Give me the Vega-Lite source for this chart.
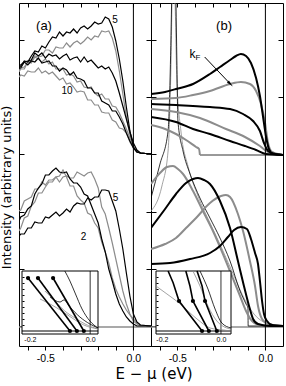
{
"$schema":"https://vega.github.io/schema/vega-lite/v6.json",
"padding":{"left":0,"top":0,"right":2,"bottom":0},
"background":"white",
"title":{"text":"E − μ (eV)","orient":"bottom","anchor":"middle","font":"DejaVu Sans","fontSize":15,"fontWeight":"normal","offset":3,"dx":12,"color":"#000"},
"spacing":0,
"bounds":"flush",
"config":{"font":"Liberation Sans","view":{"stroke":"#000","strokeWidth":1},"axis":{"grid":false,"labelFont":"Liberation Sans","titleFont":"Liberation Sans","tickColor":"#000","labelColor":"#000","titleColor":"#000","domainColor":"#000","tickWidth":1},"text":{"font":"Liberation Sans","color":"#000"}},
"datasets":{
"gbase":[{"x":-0.65,"y":-1},{"x":0.1,"y":-1}],
"zero":[{"x":0,"y":-20},{"x":0,"y":323}],
"aK":[
{"id":"A","x":-0.65,"y":259},{"id":"A","x":-0.64,"y":260},{"id":"A","x":-0.62,"y":265},{"id":"A","x":-0.6,"y":264},{"id":"A","x":-0.58,"y":270},{"id":"A","x":-0.56,"y":275},{"id":"A","x":-0.54,"y":274},{"id":"A","x":-0.52,"y":280},{"id":"A","x":-0.5,"y":278},{"id":"A","x":-0.48,"y":284},{"id":"A","x":-0.46,"y":289},{"id":"A","x":-0.44,"y":288},{"id":"A","x":-0.42,"y":294},{"id":"A","x":-0.4,"y":290},{"id":"A","x":-0.38,"y":294},{"id":"A","x":-0.36,"y":293},{"id":"A","x":-0.34,"y":297},{"id":"A","x":-0.32,"y":293},{"id":"A","x":-0.3,"y":298},{"id":"A","x":-0.28,"y":300},{"id":"A","x":-0.26,"y":297},{"id":"A","x":-0.24,"y":300},{"id":"A","x":-0.22,"y":304},{"id":"A","x":-0.2,"y":302},{"id":"A","x":-0.18,"y":303},{"id":"A","x":-0.16,"y":309},{"id":"A","x":-0.15,"y":308},{"id":"A","x":-0.14,"y":307},{"id":"A","x":-0.12,"y":299},{"id":"A","x":-0.1,"y":285},{"id":"A","x":-0.08,"y":267},{"id":"A","x":-0.06,"y":245},{"id":"A","x":-0.04,"y":219},{"id":"A","x":-0.02,"y":195},{"id":"A","x":0,"y":179},{"id":"A","x":0.02,"y":174},{"id":"A","x":0.04,"y":173},{"id":"A","x":0.1,"y":172},
{"id":"C","x":-0.65,"y":258},{"id":"C","x":-0.64,"y":258},{"id":"C","x":-0.62,"y":264},{"id":"C","x":-0.6,"y":265},{"id":"C","x":-0.58,"y":266},{"id":"C","x":-0.56,"y":273},{"id":"C","x":-0.54,"y":270},{"id":"C","x":-0.52,"y":273},{"id":"C","x":-0.5,"y":268},{"id":"C","x":-0.48,"y":272},{"id":"C","x":-0.46,"y":270},{"id":"C","x":-0.44,"y":271},{"id":"C","x":-0.42,"y":267},{"id":"C","x":-0.4,"y":270},{"id":"C","x":-0.38,"y":272},{"id":"C","x":-0.36,"y":266},{"id":"C","x":-0.34,"y":268},{"id":"C","x":-0.32,"y":269},{"id":"C","x":-0.3,"y":264},{"id":"C","x":-0.28,"y":269},{"id":"C","x":-0.26,"y":264},{"id":"C","x":-0.24,"y":266},{"id":"C","x":-0.22,"y":262},{"id":"C","x":-0.2,"y":258},{"id":"C","x":-0.18,"y":260},{"id":"C","x":-0.16,"y":257},{"id":"C","x":-0.14,"y":259},{"id":"C","x":-0.12,"y":253},{"id":"C","x":-0.1,"y":245},{"id":"C","x":-0.08,"y":233},{"id":"C","x":-0.06,"y":220},{"id":"C","x":-0.04,"y":207},{"id":"C","x":-0.02,"y":194},{"id":"C","x":0,"y":183},{"id":"C","x":0.02,"y":176},{"id":"C","x":0.04,"y":173},{"id":"C","x":0.1,"y":172},
{"id":"E","x":-0.65,"y":261},{"id":"E","x":-0.64,"y":261},{"id":"E","x":-0.62,"y":264},{"id":"E","x":-0.6,"y":261},{"id":"E","x":-0.58,"y":265},{"id":"E","x":-0.56,"y":264},{"id":"E","x":-0.54,"y":268},{"id":"E","x":-0.52,"y":263},{"id":"E","x":-0.5,"y":264},{"id":"E","x":-0.48,"y":265},{"id":"E","x":-0.46,"y":260},{"id":"E","x":-0.44,"y":260},{"id":"E","x":-0.42,"y":255},{"id":"E","x":-0.4,"y":258},{"id":"E","x":-0.38,"y":256},{"id":"E","x":-0.36,"y":251},{"id":"E","x":-0.34,"y":254},{"id":"E","x":-0.32,"y":248},{"id":"E","x":-0.3,"y":247},{"id":"E","x":-0.28,"y":245},{"id":"E","x":-0.26,"y":238},{"id":"E","x":-0.24,"y":238},{"id":"E","x":-0.22,"y":233},{"id":"E","x":-0.2,"y":233},{"id":"E","x":-0.18,"y":225},{"id":"E","x":-0.16,"y":223},{"id":"E","x":-0.14,"y":221},{"id":"E","x":-0.12,"y":215},{"id":"E","x":-0.1,"y":215},{"id":"E","x":-0.08,"y":209},{"id":"E","x":-0.06,"y":202},{"id":"E","x":-0.04,"y":193},{"id":"E","x":-0.02,"y":185},{"id":"E","x":0,"y":178},{"id":"E","x":0.02,"y":174},{"id":"E","x":0.04,"y":173},{"id":"E","x":0.1,"y":172},
{"id":"LA","x":-0.65,"y":90},{"id":"LA","x":-0.64,"y":92},{"id":"LA","x":-0.62,"y":92},{"id":"LA","x":-0.6,"y":98},{"id":"LA","x":-0.58,"y":98},{"id":"LA","x":-0.56,"y":104},{"id":"LA","x":-0.54,"y":103},{"id":"LA","x":-0.52,"y":103},{"id":"LA","x":-0.5,"y":109},{"id":"LA","x":-0.48,"y":108},{"id":"LA","x":-0.46,"y":111},{"id":"LA","x":-0.44,"y":114},{"id":"LA","x":-0.42,"y":110},{"id":"LA","x":-0.4,"y":113},{"id":"LA","x":-0.38,"y":117},{"id":"LA","x":-0.36,"y":114},{"id":"LA","x":-0.34,"y":120},{"id":"LA","x":-0.32,"y":123},{"id":"LA","x":-0.3,"y":122},{"id":"LA","x":-0.28,"y":122},{"id":"LA","x":-0.26,"y":128},{"id":"LA","x":-0.24,"y":126},{"id":"LA","x":-0.22,"y":129},{"id":"LA","x":-0.2,"y":129},{"id":"LA","x":-0.18,"y":136},{"id":"LA","x":-0.16,"y":136},{"id":"LA","x":-0.14,"y":135},{"id":"LA","x":-0.12,"y":125},{"id":"LA","x":-0.1,"y":115},{"id":"LA","x":-0.08,"y":97},{"id":"LA","x":-0.06,"y":77},{"id":"LA","x":-0.04,"y":53},{"id":"LA","x":-0.02,"y":30},{"id":"LA","x":0,"y":12},{"id":"LA","x":0.02,"y":4},{"id":"LA","x":0.04,"y":1},{"id":"LA","x":0.1,"y":0},
{"id":"LC","x":-0.65,"y":105},{"id":"LC","x":-0.64,"y":109},{"id":"LC","x":-0.62,"y":111},{"id":"LC","x":-0.6,"y":117},{"id":"LC","x":-0.58,"y":120},{"id":"LC","x":-0.56,"y":132},{"id":"LC","x":-0.54,"y":138},{"id":"LC","x":-0.52,"y":142},{"id":"LC","x":-0.5,"y":151},{"id":"LC","x":-0.48,"y":151},{"id":"LC","x":-0.46,"y":155},{"id":"LC","x":-0.44,"y":158},{"id":"LC","x":-0.42,"y":154},{"id":"LC","x":-0.4,"y":153},{"id":"LC","x":-0.38,"y":154},{"id":"LC","x":-0.36,"y":147},{"id":"LC","x":-0.34,"y":143},{"id":"LC","x":-0.32,"y":143},{"id":"LC","x":-0.3,"y":139},{"id":"LC","x":-0.28,"y":132},{"id":"LC","x":-0.26,"y":130},{"id":"LC","x":-0.24,"y":121},{"id":"LC","x":-0.22,"y":112},{"id":"LC","x":-0.2,"y":103},{"id":"LC","x":-0.18,"y":87},{"id":"LC","x":-0.16,"y":74},{"id":"LC","x":-0.14,"y":57},{"id":"LC","x":-0.12,"y":45},{"id":"LC","x":-0.1,"y":32},{"id":"LC","x":-0.08,"y":22},{"id":"LC","x":-0.06,"y":15},{"id":"LC","x":-0.04,"y":9},{"id":"LC","x":-0.02,"y":5},{"id":"LC","x":0,"y":2},{"id":"LC","x":0.02,"y":0},{"id":"LC","x":0.1,"y":0}
],
"aG":[
{"id":"B","x":-0.65,"y":255},{"id":"B","x":-0.64,"y":257},{"id":"B","x":-0.62,"y":257},{"id":"B","x":-0.6,"y":264},{"id":"B","x":-0.58,"y":265},{"id":"B","x":-0.56,"y":270},{"id":"B","x":-0.54,"y":269},{"id":"B","x":-0.52,"y":270},{"id":"B","x":-0.5,"y":276},{"id":"B","x":-0.48,"y":276},{"id":"B","x":-0.46,"y":273},{"id":"B","x":-0.44,"y":279},{"id":"B","x":-0.42,"y":278},{"id":"B","x":-0.4,"y":278},{"id":"B","x":-0.38,"y":283},{"id":"B","x":-0.36,"y":279},{"id":"B","x":-0.34,"y":283},{"id":"B","x":-0.32,"y":285},{"id":"B","x":-0.3,"y":282},{"id":"B","x":-0.28,"y":285},{"id":"B","x":-0.26,"y":289},{"id":"B","x":-0.24,"y":286},{"id":"B","x":-0.22,"y":290},{"id":"B","x":-0.2,"y":289},{"id":"B","x":-0.18,"y":295},{"id":"B","x":-0.16,"y":294},{"id":"B","x":-0.14,"y":295},{"id":"B","x":-0.12,"y":288},{"id":"B","x":-0.1,"y":275},{"id":"B","x":-0.08,"y":255},{"id":"B","x":-0.06,"y":232},{"id":"B","x":-0.04,"y":209},{"id":"B","x":-0.02,"y":191},{"id":"B","x":0,"y":179},{"id":"B","x":0.02,"y":174},{"id":"B","x":0.04,"y":173},{"id":"B","x":0.1,"y":172},
{"id":"D","x":-0.65,"y":254},{"id":"D","x":-0.64,"y":258},{"id":"D","x":-0.62,"y":259},{"id":"D","x":-0.6,"y":264},{"id":"D","x":-0.58,"y":263},{"id":"D","x":-0.56,"y":269},{"id":"D","x":-0.54,"y":267},{"id":"D","x":-0.52,"y":264},{"id":"D","x":-0.5,"y":267},{"id":"D","x":-0.48,"y":262},{"id":"D","x":-0.46,"y":264},{"id":"D","x":-0.44,"y":257},{"id":"D","x":-0.42,"y":257},{"id":"D","x":-0.4,"y":257},{"id":"D","x":-0.38,"y":251},{"id":"D","x":-0.36,"y":252},{"id":"D","x":-0.34,"y":250},{"id":"D","x":-0.32,"y":244},{"id":"D","x":-0.3,"y":245},{"id":"D","x":-0.28,"y":239},{"id":"D","x":-0.26,"y":238},{"id":"D","x":-0.24,"y":239},{"id":"D","x":-0.22,"y":233},{"id":"D","x":-0.2,"y":230},{"id":"D","x":-0.18,"y":232},{"id":"D","x":-0.16,"y":227},{"id":"D","x":-0.14,"y":227},{"id":"D","x":-0.12,"y":220},{"id":"D","x":-0.1,"y":219},{"id":"D","x":-0.08,"y":213},{"id":"D","x":-0.06,"y":205},{"id":"D","x":-0.04,"y":197},{"id":"D","x":-0.02,"y":188},{"id":"D","x":0,"y":180},{"id":"D","x":0.02,"y":175},{"id":"D","x":0.04,"y":173},{"id":"D","x":0.1,"y":172},
{"id":"F","x":-0.65,"y":249},{"id":"F","x":-0.64,"y":251},{"id":"F","x":-0.62,"y":250},{"id":"F","x":-0.6,"y":255},{"id":"F","x":-0.58,"y":254},{"id":"F","x":-0.56,"y":254},{"id":"F","x":-0.54,"y":258},{"id":"F","x":-0.52,"y":253},{"id":"F","x":-0.5,"y":255},{"id":"F","x":-0.48,"y":252},{"id":"F","x":-0.46,"y":254},{"id":"F","x":-0.44,"y":250},{"id":"F","x":-0.42,"y":246},{"id":"F","x":-0.4,"y":248},{"id":"F","x":-0.38,"y":242},{"id":"F","x":-0.36,"y":243},{"id":"F","x":-0.34,"y":239},{"id":"F","x":-0.32,"y":234},{"id":"F","x":-0.3,"y":235},{"id":"F","x":-0.28,"y":234},{"id":"F","x":-0.26,"y":226},{"id":"F","x":-0.24,"y":226},{"id":"F","x":-0.22,"y":221},{"id":"F","x":-0.2,"y":221},{"id":"F","x":-0.18,"y":214},{"id":"F","x":-0.16,"y":213},{"id":"F","x":-0.14,"y":213},{"id":"F","x":-0.12,"y":206},{"id":"F","x":-0.1,"y":204},{"id":"F","x":-0.08,"y":198},{"id":"F","x":-0.06,"y":197},{"id":"F","x":-0.04,"y":193},{"id":"F","x":-0.02,"y":184},{"id":"F","x":0,"y":178},{"id":"F","x":0.02,"y":174},{"id":"F","x":0.04,"y":173},{"id":"F","x":0.1,"y":172},
{"id":"LB","x":-0.65,"y":115},{"id":"LB","x":-0.64,"y":116},{"id":"LB","x":-0.62,"y":125},{"id":"LB","x":-0.6,"y":127},{"id":"LB","x":-0.58,"y":129},{"id":"LB","x":-0.56,"y":137},{"id":"LB","x":-0.54,"y":137},{"id":"LB","x":-0.52,"y":144},{"id":"LB","x":-0.5,"y":141},{"id":"LB","x":-0.48,"y":146},{"id":"LB","x":-0.46,"y":146},{"id":"LB","x":-0.44,"y":149},{"id":"LB","x":-0.42,"y":144},{"id":"LB","x":-0.4,"y":149},{"id":"LB","x":-0.38,"y":150},{"id":"LB","x":-0.36,"y":148},{"id":"LB","x":-0.34,"y":148},{"id":"LB","x":-0.32,"y":154},{"id":"LB","x":-0.3,"y":152},{"id":"LB","x":-0.28,"y":150},{"id":"LB","x":-0.26,"y":153},{"id":"LB","x":-0.24,"y":154},{"id":"LB","x":-0.22,"y":147},{"id":"LB","x":-0.2,"y":138},{"id":"LB","x":-0.18,"y":119},{"id":"LB","x":-0.16,"y":112},{"id":"LB","x":-0.14,"y":98},{"id":"LB","x":-0.12,"y":83},{"id":"LB","x":-0.1,"y":67},{"id":"LB","x":-0.08,"y":51},{"id":"LB","x":-0.06,"y":35},{"id":"LB","x":-0.04,"y":22},{"id":"LB","x":-0.02,"y":12},{"id":"LB","x":0,"y":5},{"id":"LB","x":0.02,"y":2},{"id":"LB","x":0.04,"y":0},{"id":"LB","x":0.1,"y":0},
{"id":"LD","x":-0.65,"y":95},{"id":"LD","x":-0.64,"y":98},{"id":"LD","x":-0.62,"y":108},{"id":"LD","x":-0.6,"y":110},{"id":"LD","x":-0.58,"y":120},{"id":"LD","x":-0.56,"y":124},{"id":"LD","x":-0.54,"y":133},{"id":"LD","x":-0.52,"y":133},{"id":"LD","x":-0.5,"y":139},{"id":"LD","x":-0.48,"y":144},{"id":"LD","x":-0.46,"y":144},{"id":"LD","x":-0.44,"y":149},{"id":"LD","x":-0.42,"y":150},{"id":"LD","x":-0.4,"y":156},{"id":"LD","x":-0.38,"y":149},{"id":"LD","x":-0.36,"y":140},{"id":"LD","x":-0.34,"y":140},{"id":"LD","x":-0.32,"y":130},{"id":"LD","x":-0.3,"y":126},{"id":"LD","x":-0.28,"y":123},{"id":"LD","x":-0.26,"y":113},{"id":"LD","x":-0.24,"y":111},{"id":"LD","x":-0.22,"y":103},{"id":"LD","x":-0.2,"y":98},{"id":"LD","x":-0.18,"y":84},{"id":"LD","x":-0.16,"y":74},{"id":"LD","x":-0.14,"y":63},{"id":"LD","x":-0.12,"y":48},{"id":"LD","x":-0.1,"y":37},{"id":"LD","x":-0.08,"y":29},{"id":"LD","x":-0.06,"y":22},{"id":"LD","x":-0.04,"y":16},{"id":"LD","x":-0.02,"y":11},{"id":"LD","x":0,"y":7},{"id":"LD","x":0.02,"y":3},{"id":"LD","x":0.04,"y":1},{"id":"LD","x":0.1,"y":0}
],
"bK":[
{"id":"U1","x":-0.65,"y":232},{"id":"U1","x":-0.57,"y":234},{"id":"U1","x":-0.508,"y":237},{"id":"U1","x":-0.411,"y":242},{"id":"U1","x":-0.315,"y":252},{"id":"U1","x":-0.258,"y":259},{"id":"U1","x":-0.201,"y":266},{"id":"U1","x":-0.167,"y":270},{"id":"U1","x":-0.139,"y":272},{"id":"U1","x":-0.11,"y":270},{"id":"U1","x":-0.082,"y":263},{"id":"U1","x":-0.053,"y":248},{"id":"U1","x":-0.031,"y":230},{"id":"U1","x":-0.014,"y":210},{"id":"U1","x":0.003,"y":190},{"id":"U1","x":0.02,"y":177},{"id":"U1","x":0.043,"y":172},{"id":"U1","x":0.1,"y":171},
{"id":"U3","x":-0.65,"y":222},{"id":"U3","x":-0.508,"y":221},{"id":"U3","x":-0.315,"y":219},{"id":"U3","x":-0.201,"y":217},{"id":"U3","x":-0.127,"y":212},{"id":"U3","x":-0.07,"y":205},{"id":"U3","x":-0.031,"y":195},{"id":"U3","x":-0.008,"y":183},{"id":"U3","x":0.015,"y":175},{"id":"U3","x":0.055,"y":172},{"id":"U3","x":0.1,"y":171},
{"id":"U5","x":-0.65,"y":209},{"id":"U5","x":-0.508,"y":204},{"id":"U5","x":-0.411,"y":197},{"id":"U5","x":-0.315,"y":192},{"id":"U5","x":-0.201,"y":185},{"id":"U5","x":-0.116,"y":180},{"id":"U5","x":-0.053,"y":176},{"id":"U5","x":0.003,"y":172},{"id":"U5","x":0.1,"y":171},
{"id":"B1","x":-0.65,"y":98},{"id":"B1","x":-0.57,"y":117},{"id":"B1","x":-0.508,"y":132},{"id":"B1","x":-0.451,"y":143},{"id":"B1","x":-0.411,"y":147},{"id":"B1","x":-0.383,"y":148},{"id":"B1","x":-0.349,"y":146},{"id":"B1","x":-0.315,"y":142},{"id":"B1","x":-0.258,"y":125},{"id":"B1","x":-0.201,"y":98},{"id":"B1","x":-0.156,"y":65},{"id":"B1","x":-0.122,"y":40},{"id":"B1","x":-0.093,"y":20},{"id":"B1","x":-0.07,"y":7},{"id":"B1","x":-0.042,"y":2},{"id":"B1","x":0.026,"y":0},{"id":"B1","x":0.1,"y":0},
{"id":"B2","x":-0.65,"y":62},{"id":"B2","x":-0.542,"y":63},{"id":"B2","x":-0.428,"y":67},{"id":"B2","x":-0.315,"y":73},{"id":"B2","x":-0.258,"y":80},{"id":"B2","x":-0.213,"y":89},{"id":"B2","x":-0.178,"y":96},{"id":"B2","x":-0.139,"y":99},{"id":"B2","x":-0.105,"y":97},{"id":"B2","x":-0.082,"y":87},{"id":"B2","x":-0.059,"y":73},{"id":"B2","x":-0.042,"y":62},{"id":"B2","x":-0.031,"y":45},{"id":"B2","x":-0.019,"y":25},{"id":"B2","x":-0.008,"y":12},{"id":"B2","x":0.009,"y":5},{"id":"B2","x":0.038,"y":1},{"id":"B2","x":0.1,"y":0}
],
"bG":[
{"id":"U2","x":-0.65,"y":227},{"id":"U2","x":-0.508,"y":228},{"id":"U2","x":-0.411,"y":231},{"id":"U2","x":-0.315,"y":235},{"id":"U2","x":-0.201,"y":242},{"id":"U2","x":-0.139,"y":244},{"id":"U2","x":-0.088,"y":242},{"id":"U2","x":-0.053,"y":235},{"id":"U2","x":-0.025,"y":222},{"id":"U2","x":-0.002,"y":203},{"id":"U2","x":0.015,"y":183},{"id":"U2","x":0.038,"y":174},{"id":"U2","x":0.1,"y":171},
{"id":"U4","x":-0.65,"y":217},{"id":"U4","x":-0.508,"y":214},{"id":"U4","x":-0.372,"y":208},{"id":"U4","x":-0.224,"y":197},{"id":"U4","x":-0.116,"y":189},{"id":"U4","x":-0.031,"y":180},{"id":"U4","x":0.015,"y":174},{"id":"U4","x":0.1,"y":171},
{"id":"U6","x":-0.65,"y":201},{"id":"U6","x":-0.57,"y":197},{"id":"U6","x":-0.508,"y":192},{"id":"U6","x":-0.451,"y":186},{"id":"U6","x":-0.394,"y":179},{"id":"U6","x":-0.377,"y":177},{"id":"U6","x":-0.372,"y":171},
{"id":"G1","x":-0.65,"y":142},{"id":"G1","x":-0.599,"y":153},{"id":"G1","x":-0.559,"y":159},{"id":"G1","x":-0.525,"y":160},{"id":"G1","x":-0.497,"y":157},{"id":"G1","x":-0.468,"y":152},{"id":"G1","x":-0.411,"y":135},{"id":"G1","x":-0.355,"y":115},{"id":"G1","x":-0.298,"y":95},{"id":"G1","x":-0.241,"y":72},{"id":"G1","x":-0.19,"y":50},{"id":"G1","x":-0.144,"y":30},{"id":"G1","x":-0.11,"y":15},{"id":"G1","x":-0.076,"y":5},{"id":"G1","x":-0.031,"y":1},{"id":"G1","x":0.1,"y":0},
{"id":"G2","x":-0.65,"y":77},{"id":"G2","x":-0.57,"y":82},{"id":"G2","x":-0.508,"y":88},{"id":"G2","x":-0.451,"y":98},{"id":"G2","x":-0.394,"y":108},{"id":"G2","x":-0.315,"y":123},{"id":"G2","x":-0.252,"y":130},{"id":"G2","x":-0.224,"y":131},{"id":"G2","x":-0.201,"y":129},{"id":"G2","x":-0.156,"y":112},{"id":"G2","x":-0.127,"y":95},{"id":"G2","x":-0.088,"y":65},{"id":"G2","x":-0.059,"y":40},{"id":"G2","x":-0.042,"y":20},{"id":"G2","x":-0.019,"y":7},{"id":"G2","x":0.015,"y":2},{"id":"G2","x":0.1,"y":0}
],
"bTK":[
{"id":"T1","x":-0.65,"y":128},{"id":"T1","x":-0.599,"y":162},{"id":"T1","x":-0.553,"y":195},{"id":"T1","x":-0.542,"y":245},{"id":"T1","x":-0.533,"y":323},{"id":"T1","x":-0.522,"y":450},{"id":"T1","x":-0.508,"y":323},{"id":"T1","x":-0.503,"y":265},{"id":"T1","x":-0.497,"y":205},{"id":"T1","x":-0.468,"y":175},{"id":"T1","x":-0.428,"y":152},{"id":"T1","x":-0.372,"y":128},{"id":"T1","x":-0.315,"y":108},{"id":"T1","x":-0.258,"y":88},{"id":"T1","x":-0.201,"y":65},{"id":"T1","x":-0.144,"y":35},{"id":"T1","x":-0.11,"y":22},{"id":"T1","x":-0.099,"y":18},{"id":"T1","x":-0.098,"y":0},{"id":"T1","x":0.1,"y":0},
{"id":"base","x":-0.372,"y":171},{"id":"base","x":0.1,"y":171}
],
"bTG":[
{"id":"T2","x":-0.65,"y":115},{"id":"T2","x":-0.588,"y":140},{"id":"T2","x":-0.553,"y":175},{"id":"T2","x":-0.536,"y":265},{"id":"T2","x":-0.525,"y":375},{"id":"T2","x":-0.513,"y":323},{"id":"T2","x":-0.503,"y":245},{"id":"T2","x":-0.48,"y":195},{"id":"T2","x":-0.44,"y":160},{"id":"T2","x":-0.383,"y":130},{"id":"T2","x":-0.315,"y":103},{"id":"T2","x":-0.246,"y":77},{"id":"T2","x":-0.178,"y":50},{"id":"T2","x":-0.122,"y":28},{"id":"T2","x":-0.065,"y":12},{"id":"T2","x":-0.008,"y":4},{"id":"T2","x":0.1,"y":0}
],
"panelA":[{"t":"(a)","x":-0.508,"y":300}],
"numA":[{"t":"5","x":-0.104,"y":306},{"t":"10","x":-0.377,"y":235},{"t":"5","x":-0.102,"y":128},{"t":"2","x":-0.284,"y":89}],
"panelB":[{"t":"(b)","x":-0.235,"y":300}],
"kf":[{"t":"k","x":-0.414,"y":272}],
"kfsub":[{"t":"F","x":-0.383,"y":268}],
"arrow":[{"x":-0.345,"y":269},{"x":-0.199,"y":242}],
"arrowhead":[{"x":-0.199,"y":242}],
"iaFrame":[{"x":-0.226,"x2":0.026,"y":-0.05,"y2":1}],
"iaZero":[{"x":0,"y":-0.05},{"x":0,"y":1}],
"iaBase":[{"x":-0.226,"y":0},{"x":0.026,"y":0}],
"iaThinK":[
{"id":"t1","x":-0.084,"y":1.0},{"id":"t1","x":-0.067,"y":0.833},{"id":"t1","x":-0.05,"y":0.633},{"id":"t1","x":-0.027,"y":0.367},{"id":"t1","x":-0.001,"y":0.167},{"id":"t1","x":0.026,"y":0.05},
{"id":"t4","x":-0.133,"y":0.567},{"id":"t4","x":-0.1,"y":0.483},{"id":"t4","x":-0.087,"y":0.517},{"id":"t4","x":-0.067,"y":0.4},{"id":"t4","x":-0.034,"y":0.233},{"id":"t4","x":-0.001,"y":0.117},{"id":"t4","x":0.026,"y":0.05}
],
"iaThinG":[
{"id":"t2","x":-0.15,"y":0.667},{"id":"t2","x":-0.117,"y":0.5},{"id":"t2","x":-0.084,"y":0.333},{"id":"t2","x":-0.05,"y":0.217},{"id":"t2","x":-0.017,"y":0.117},{"id":"t2","x":0.026,"y":0.033},
{"id":"t3","x":-0.166,"y":0.533},{"id":"t3","x":-0.127,"y":0.433},{"id":"t3","x":-0.094,"y":0.333},{"id":"t3","x":-0.06,"y":0.217},{"id":"t3","x":-0.021,"y":0.1},{"id":"t3","x":0.026,"y":0.033}
],
"iaLines":[
{"id":"L1","x":-0.206,"y":0.883},{"id":"L1","x":-0.067,"y":0},
{"id":"L2","x":-0.173,"y":0.883},{"id":"L2","x":-0.044,"y":0},
{"id":"L3","x":-0.123,"y":0.883},{"id":"L3","x":-0.021,"y":0}
],
"iaDots":[{"x":-0.206,"y":0.883},{"x":-0.173,"y":0.883},{"x":-0.123,"y":0.883},{"x":-0.067,"y":0},{"x":-0.044,"y":0},{"x":-0.021,"y":0}],
"ibFrame":[{"x":-0.22,"x2":0.034,"y":-0.05,"y2":1}],
"ibZero":[{"x":0,"y":-0.05},{"x":0,"y":1}],
"ibBase":[{"x":-0.22,"y":0},{"x":0.034,"y":0}],
"ibK":[
{"id":"K1","x":-0.179,"y":1.0},{"id":"K1","x":-0.162,"y":0.805},{"id":"K1","x":-0.142,"y":0.5},{"id":"K1","x":-0.064,"y":0},
{"id":"K2","x":-0.119,"y":1.0},{"id":"K2","x":-0.105,"y":0.75},{"id":"K2","x":-0.095,"y":0.5},{"id":"K2","x":-0.041,"y":0},
{"id":"K3","x":-0.081,"y":1.0},{"id":"K3","x":-0.064,"y":0.75},{"id":"K3","x":-0.054,"y":0.5},{"id":"K3","x":-0.014,"y":0}
],
"ibThinG":[
{"id":"g1","x":-0.22,"y":0.75},{"id":"g1","x":-0.183,"y":0.617},{"id":"g1","x":-0.142,"y":0.467},{"id":"g1","x":-0.081,"y":0.2},{"id":"g1","x":-0.037,"y":0.05},{"id":"g1","x":0.007,"y":0.017},{"id":"g1","x":0.034,"y":0},
{"id":"g2","x":-0.095,"y":1.0},{"id":"g2","x":-0.071,"y":0.75},{"id":"g2","x":-0.044,"y":0.417},{"id":"g2","x":-0.014,"y":0.167},{"id":"g2","x":0.02,"y":0.05},{"id":"g2","x":0.034,"y":0.033}
],
"ibThinK":[
{"id":"k1","x":-0.071,"y":1.0},{"id":"k1","x":-0.044,"y":0.7},{"id":"k1","x":-0.02,"y":0.367},{"id":"k1","x":0.003,"y":0.133},{"id":"k1","x":0.034,"y":0.05}
],
"ibDots":[{"x":-0.142,"y":0.5},{"x":-0.095,"y":0.5},{"x":-0.054,"y":0.5},{"x":-0.064,"y":0},{"x":-0.041,"y":0},{"x":-0.014,"y":0}]
},
"hconcat":[
{
"width":132,"height":343,
"resolve":{"scale":{"x":"independent","y":"independent"}},
"layer":[
{
"encoding":{
"x":{"field":"x","type":"quantitative","scale":{"domain":[-0.65,0.1],"nice":false,"zero":false},"axis":{"orient":"bottom","values":[-0.6,-0.5,-0.4,-0.3,-0.2,-0.1,0],"labelExpr":"abs(datum.value+0.5)<0.001 ? '-0.5' : abs(datum.value)<0.001 ? '0.0' : ''","tickSize":4,"domain":false,"title":null,"labelFontSize":10.5,"labelPadding":3,"labelFlush":false}},
"y":{"field":"y","type":"quantitative","scale":{"domain":[-20,323],"nice":false,"zero":false},"axis":{"orient":"left","values":[0,57.2,114.4,171.6,228.8,286],"tickSize":-5,"labels":false,"domain":false,"title":"Intensity (arbitrary units)","titleFont":"DejaVu Sans","titleFontSize":13,"titleFontWeight":"normal","titlePadding":5,"titleY":184}}
},
"layer":[
{"data":{"name":"gbase"},"mark":{"type":"line","color":"#8c8c8c","strokeWidth":1.5,"clip":true},"encoding":{}},
{"data":{"name":"aG"},"mark":{"type":"line","color":"#8c8c8c","strokeWidth":1.2,"clip":true},"encoding":{"detail":{"field":"id","type":"nominal"}}},
{"data":{"name":"aK"},"mark":{"type":"line","color":"#000","strokeWidth":1.2,"clip":true},"encoding":{"detail":{"field":"id","type":"nominal"}}},
{"data":{"name":"panelA"},"mark":{"type":"text","fontSize":13,"align":"center","baseline":"middle","color":"#000"},"encoding":{"text":{"field":"t","type":"nominal"}}},
{"data":{"name":"numA"},"mark":{"type":"text","fontSize":10,"align":"center","baseline":"middle","color":"#000"},"encoding":{"text":{"field":"t","type":"nominal"}}}
]
},
{
"encoding":{
"x":{"field":"x","type":"quantitative","scale":{"domain":[-0.65,0.1],"nice":false,"zero":false},"axis":{"orient":"top","values":[-0.6,-0.5,-0.4,-0.3,-0.2,-0.1,0],"tickSize":-4,"labels":false,"domain":false,"title":null}},
"y":{"field":"y","type":"quantitative","scale":{"domain":[-20,323],"nice":false,"zero":false},"axis":{"orient":"right","values":[0,57.2,114.4,171.6,228.8,286],"tickSize":-5,"labels":false,"domain":false,"title":null}}
},
"layer":[
{"data":{"name":"zero"},"mark":{"type":"line","color":"#000","strokeWidth":1},"encoding":{}}
]
},
{
"encoding":{
"x":{"field":"x","type":"quantitative","scale":{"domain":[-0.226,0.026],"range":[3,79],"nice":false,"zero":false},"axis":{"orient":"bottom","offset":-12,"values":[-0.2,0],"labelExpr":"abs(datum.value+0.2)<0.001 ? '-0.2' : '0.0'","ticks":false,"domain":false,"title":null,"labelFontSize":7,"labelPadding":1,"labelFlush":false,"zindex":2}},
"y":{"field":"y","type":"quantitative","scale":{"domain":[-0.05,1],"range":[331,268],"nice":false,"zero":false},"axis":{"orient":"left","offset":-3,"values":[0.1,0.2,0.3,0.4,0.5,0.6,0.7,0.8,0.9],"tickSize":-2,"labels":false,"domain":false,"title":null,"zindex":2}}
},
"layer":[
{"data":{"name":"iaFrame"},"mark":{"type":"rect","fill":"white","stroke":"#000","strokeWidth":1},"encoding":{"x2":{"field":"x2"},"y2":{"field":"y2"}}},
{"data":{"name":"iaZero"},"mark":{"type":"line","color":"#000","strokeWidth":0.8},"encoding":{}},
{"data":{"name":"iaBase"},"mark":{"type":"line","color":"#000","strokeWidth":1},"encoding":{}},
{"data":{"name":"iaThinG"},"mark":{"type":"line","color":"#8c8c8c","strokeWidth":0.8,"interpolate":"monotone"},"encoding":{"detail":{"field":"id","type":"nominal"}}},
{"data":{"name":"iaThinK"},"mark":{"type":"line","color":"#000","strokeWidth":0.8,"interpolate":"monotone"},"encoding":{"detail":{"field":"id","type":"nominal"}}},
{"data":{"name":"iaLines"},"mark":{"type":"line","color":"#000","strokeWidth":1.6},"encoding":{"detail":{"field":"id","type":"nominal"}}},
{"data":{"name":"iaDots"},"mark":{"type":"point","filled":true,"color":"#000","size":18,"opacity":1}}
]
}
]
},
{
"width":132,"height":343,
"resolve":{"scale":{"x":"independent","y":"independent"}},
"layer":[
{
"encoding":{
"x":{"field":"x","type":"quantitative","scale":{"domain":[-0.65,0.1],"nice":false,"zero":false},"axis":{"orient":"bottom","values":[-0.6,-0.5,-0.4,-0.3,-0.2,-0.1,0],"labelExpr":"abs(datum.value+0.5)<0.001 ? '-0.5' : abs(datum.value)<0.001 ? '0.0' : ''","tickSize":4,"domain":false,"title":null,"labelFontSize":10.5,"labelPadding":3,"labelFlush":false}},
"y":{"field":"y","type":"quantitative","scale":{"domain":[-20,323],"nice":false,"zero":false},"axis":{"orient":"left","values":[0,57.2,114.4,171.6,228.8,286],"tickSize":-5,"labels":false,"domain":false,"title":null}}
},
"layer":[
{"data":{"name":"gbase"},"mark":{"type":"line","color":"#8c8c8c","strokeWidth":1.5,"clip":true},"encoding":{}},
{"data":{"name":"bTG"},"mark":{"type":"line","color":"#8c8c8c","strokeWidth":0.8,"clip":true,"interpolate":"monotone"},"encoding":{"detail":{"field":"id","type":"nominal"}}},
{"data":{"name":"bTK"},"mark":{"type":"line","color":"#000","strokeWidth":0.8,"clip":true,"interpolate":"monotone"},"encoding":{"detail":{"field":"id","type":"nominal"}}},
{"data":{"name":"bG"},"mark":{"type":"line","color":"#8c8c8c","strokeWidth":2,"clip":true,"interpolate":"monotone"},"encoding":{"detail":{"field":"id","type":"nominal"}}},
{"data":{"name":"bK"},"mark":{"type":"line","color":"#000","strokeWidth":2,"clip":true,"interpolate":"monotone"},"encoding":{"detail":{"field":"id","type":"nominal"}}},
{"data":{"name":"panelB"},"mark":{"type":"text","fontSize":13,"align":"center","baseline":"middle","color":"#000"},"encoding":{"text":{"field":"t","type":"nominal"}}},
{"data":{"name":"kf"},"mark":{"type":"text","fontSize":12,"align":"center","baseline":"middle","color":"#000"},"encoding":{"text":{"field":"t","type":"nominal"}}},
{"data":{"name":"kfsub"},"mark":{"type":"text","fontSize":8,"align":"center","baseline":"middle","color":"#000"},"encoding":{"text":{"field":"t","type":"nominal"}}},
{"data":{"name":"arrow"},"mark":{"type":"line","color":"#000","strokeWidth":1},"encoding":{}},
{"data":{"name":"arrowhead"},"mark":{"type":"point","shape":"M0,-1L0.4,1L-0.4,1Z","filled":true,"color":"#000","size":50,"angle":136,"opacity":1}}
]
},
{
"encoding":{
"x":{"field":"x","type":"quantitative","scale":{"domain":[-0.65,0.1],"nice":false,"zero":false},"axis":{"orient":"top","values":[-0.6,-0.5,-0.4,-0.3,-0.2,-0.1,0],"tickSize":-4,"labels":false,"domain":false,"title":null}},
"y":{"field":"y","type":"quantitative","scale":{"domain":[-20,323],"nice":false,"zero":false},"axis":{"orient":"right","values":[0,57.2,114.4,171.6,228.8,286],"tickSize":-5,"labels":false,"domain":false,"title":null}}
},
"layer":[
{"data":{"name":"zero"},"mark":{"type":"line","color":"#000","strokeWidth":1},"encoding":{}}
]
},
{
"encoding":{
"x":{"field":"x","type":"quantitative","scale":{"domain":[-0.22,0.034],"range":[5,80],"nice":false,"zero":false},"axis":{"orient":"bottom","offset":-12,"values":[-0.2,0],"labelExpr":"abs(datum.value+0.2)<0.001 ? '-0.2' : '0.0'","ticks":false,"domain":false,"title":null,"labelFontSize":7,"labelPadding":1,"labelFlush":false,"zindex":2}},
"y":{"field":"y","type":"quantitative","scale":{"domain":[-0.05,1],"range":[331,268],"nice":false,"zero":false},"axis":{"orient":"left","offset":-5,"values":[0.1,0.2,0.3,0.4,0.5,0.6,0.7,0.8,0.9],"tickSize":-2,"labels":false,"domain":false,"title":null,"zindex":2}}
},
"layer":[
{"data":{"name":"ibFrame"},"mark":{"type":"rect","fill":"white","stroke":"#000","strokeWidth":1},"encoding":{"x2":{"field":"x2"},"y2":{"field":"y2"}}},
{"data":{"name":"ibZero"},"mark":{"type":"line","color":"#000","strokeWidth":0.8},"encoding":{}},
{"data":{"name":"ibBase"},"mark":{"type":"line","color":"#000","strokeWidth":1},"encoding":{}},
{"data":{"name":"ibThinG"},"mark":{"type":"line","color":"#8c8c8c","strokeWidth":0.8,"interpolate":"monotone"},"encoding":{"detail":{"field":"id","type":"nominal"}}},
{"data":{"name":"ibThinK"},"mark":{"type":"line","color":"#000","strokeWidth":0.8,"interpolate":"monotone"},"encoding":{"detail":{"field":"id","type":"nominal"}}},
{"data":{"name":"ibK"},"mark":{"type":"line","color":"#000","strokeWidth":1.6},"encoding":{"detail":{"field":"id","type":"nominal"}}},
{"data":{"name":"ibDots"},"mark":{"type":"point","filled":true,"color":"#000","size":18,"opacity":1}}
]
}
]
}
]
}
